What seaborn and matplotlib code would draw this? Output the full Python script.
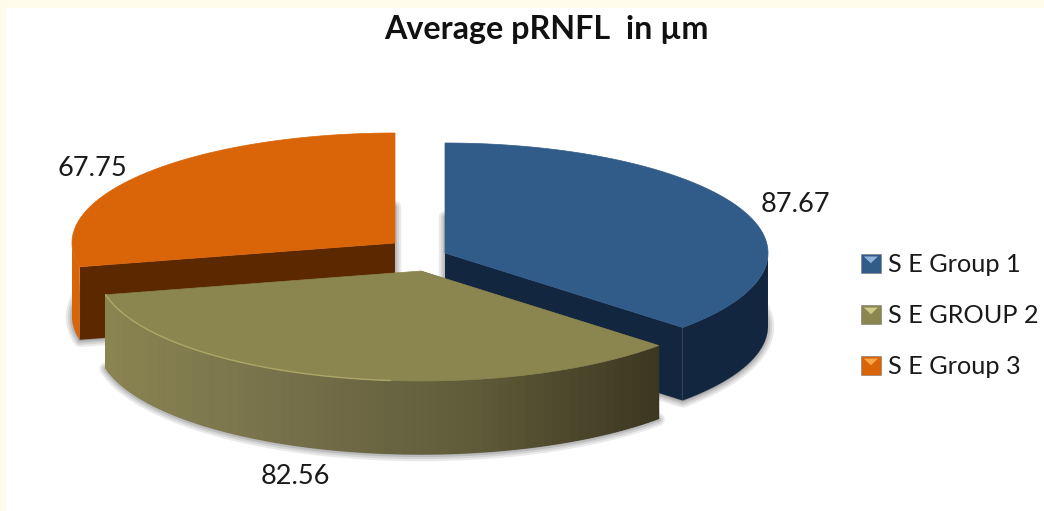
import numpy as np
import matplotlib
matplotlib.use('Agg')
import matplotlib.pyplot as plt
import seaborn as sns
from matplotlib.legend_handler import HandlerBase
from matplotlib.patches import Patch, Polygon, Rectangle

# Data
groups = ['S E Group 1', 'S E GROUP 2', 'S E Group 3']
values = [87.67, 82.56, 67.75]
value_labels = ['87.67', '82.56', '67.75']

# Colours per group
top_colors = ['#315b88', '#8b8550', '#d96508']
inner_colors = ['#13263f', '#3b3620', '#5b2800']
wall_colors = [['#13263f', '#13263f'],
               ['#8a8451', '#75704a', '#5f5a38', '#3b3620'],
               ['#d96508', '#d96508']]
swatch_light = ['#8fb4dc', '#cfc888', '#ffa64a']

# Layout in pixels
rx, ry, depth = 323, 110, 73
centers = [(445, 253), (421, 271), (395, 243)]
label_pos = [(795, 205), (295, 476), (92, 168)]

sns.set_theme(style='white')
plt.rcParams['font.family'] = ['Lato', 'DejaVu Sans']

fig = plt.figure(figsize=(10.44, 5.11), dpi=100, facecolor='#fffbea')
ax = fig.add_axes([0, 0, 1, 1])
ax.set_xlim(0, 1044)
ax.set_ylim(511, 0)
ax.axis('off')
ax.add_patch(Rectangle((7, 8), 1037, 503, color='white', zorder=0))


def arc(center, a0, a1, n=240):
    t = np.radians(np.linspace(a0, a1, n))
    return t, center[0] + rx * np.cos(t), center[1] - ry * np.sin(t)


def draw_shadow(i, a0, a1):
    # soft shadow on the ground, under the bottom face
    cx, cy = centers[i]
    t, x, y = arc((cx, cy), a0, a1)
    ground = np.column_stack([np.r_[cx, x], np.r_[cy + depth + 1, y + depth + 1]])
    for lw, alpha in [(9, 0.16), (6, 0.2), (3, 0.28)]:
        ax.add_patch(Polygon(ground, closed=True, facecolor='#808080', edgecolor='#808080',
                             lw=lw, alpha=alpha, joinstyle='round'))


def draw_slice(i, a0, a1):
    cx, cy = centers[i]
    t, x, y = arc((cx, cy), a0, a1)

    # inner cut face, from the apex to the lower end of the arc
    e = 0 if y[0] > y[-1] else -1
    ax.add_patch(Polygon([(cx, cy), (x[e], y[e]), (x[e], y[e] + depth), (cx, cy + depth)],
                         closed=True, color=inner_colors[i], lw=0))

    # outer wall, only the part facing us
    front = np.sin(t) <= 0
    fx, fy = x[front], y[front]
    shades = sns.blend_palette(wall_colors[i], n_colors=64)
    ax.add_patch(Polygon(np.column_stack([np.r_[fx, fx[::-1]], np.r_[fy, fy[::-1] + depth]]),
                         closed=True, color=shades[32], lw=0))
    if len(set(wall_colors[i])) > 1:
        for k in range(len(fx) - 1):
            pos = (fx[k] - fx.min()) / max(fx.max() - fx.min(), 1)
            ax.fill([fx[k], fx[k + 1], fx[k + 1], fx[k]],
                    [fy[k], fy[k + 1], fy[k + 1] + depth, fy[k] + depth],
                    color=shades[int(pos * 63)], lw=0.8)

    # top face
    ax.add_patch(Polygon(np.column_stack([np.r_[cx, x], np.r_[cy, y]]), closed=True,
                         color=top_colors[i], lw=0.5))
    if i == 1:
        # pale rim on the lit side only
        lit = fx < cx - 30
        ax.plot(fx[lit], fy[lit], color='#b8b06e', lw=1.0, alpha=0.8)


# Angles run clockwise from twelve o'clock, as in the source chart
total = sum(values)
spans = []
start = 90
for v in values:
    spans.append((start, start - v / total * 360))
    start -= v / total * 360

for i in [2, 0, 1]:
    draw_shadow(i, *spans[i])
for i in [2, 0, 1]:
    draw_slice(i, *spans[i])

for (lx, ly), txt in zip(label_pos, value_labels):
    ax.text(lx, ly, txt, ha='center', va='center', fontsize=19.5, color='#1a1a1a')

ax.text(546, 29, 'Average pRNFL  in µm', ha='center', va='center',
        fontsize=23.2, fontweight='bold', color='#111111')


class BevelSwatch(HandlerBase):
    def create_artists(self, legend, orig_handle, xd, yd, width, height, fontsize, trans):
        x0, y0 = -xd, -yd
        base = Rectangle((x0, y0), width, height, facecolor=orig_handle.get_facecolor(),
                         edgecolor='#777777', lw=0.4, transform=trans)
        cap = Polygon([(x0 + 2, y0 + height - 2), (x0 + width - 2, y0 + height - 2),
                       (x0 + width * 0.5, y0 + height * 0.5)],
                      closed=True, color=orig_handle.light, lw=0, transform=trans)
        return [base, cap]


handles = []
for name, col, light in zip(groups, top_colors, swatch_light):
    h = Patch(facecolor=col, label=name)
    h.light = light
    handles.append(h)

ax.legend(handles=handles, handler_map={Patch: BevelSwatch()}, loc='upper left',
          bbox_to_anchor=(861, 253), bbox_transform=ax.transData, frameon=False,
          fontsize=18.2, labelspacing=1.11, handlelength=0.78, handleheight=0.78,
          handletextpad=0.28, borderpad=0, borderaxespad=0, labelcolor='#1a1a1a')

fig.savefig('out.png', dpi=100, facecolor=fig.get_facecolor())
